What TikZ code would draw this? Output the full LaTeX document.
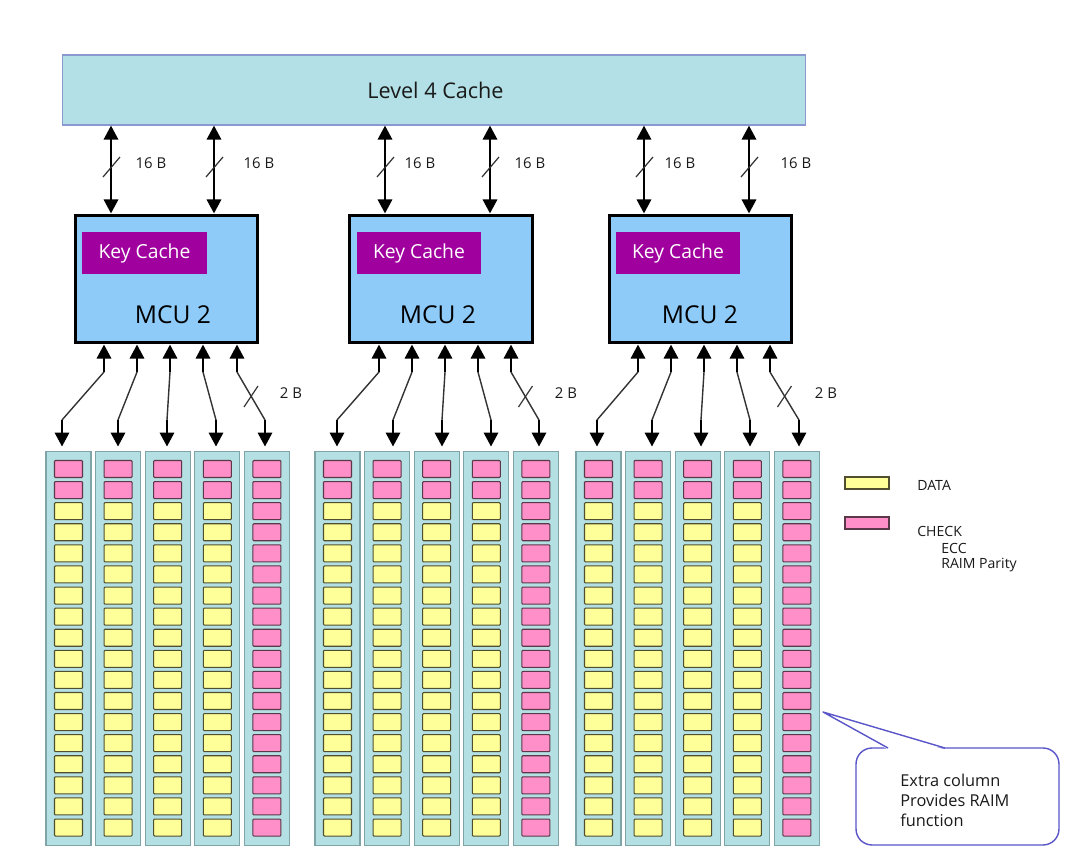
\documentclass[tikz,border=0pt]{standalone}
\usepackage{fontspec}
\setmainfont{Open Sans}
\usetikzlibrary{arrows.meta}
\definecolor{lfour}{HTML}{B2E0E6}
\definecolor{lfourline}{HTML}{8A9AD0}
\definecolor{mcufill}{HTML}{8FCBF9}
\definecolor{keyfill}{HTML}{A0009E}
\definecolor{colfill}{HTML}{B4E0E3}
\definecolor{colline}{HTML}{7FA4A8}
\definecolor{yel}{HTML}{FFFF99}
\definecolor{yelline}{HTML}{4F4F30}
\definecolor{pnk}{HTML}{FF8FC8}
\definecolor{pnkline}{HTML}{5A3848}
\definecolor{callline}{HTML}{5A55C8}
\definecolor{txt}{HTML}{1A1A1A}
\tikzset{
  l4box/.style={draw=lfourline, line width=0.6pt, fill=lfour, minimum width=14.88cm, minimum height=1.4cm, inner sep=0pt, font=\fontsize{12.3}{14}\selectfont, text=txt},
  mcubox/.style={draw=black, line width=1.7pt, fill=mcufill, minimum width=3.66cm, minimum height=2.56cm, inner sep=0pt},
  keybox/.style={fill=keyfill, minimum width=2.5cm, minimum height=0.84cm, inner sep=0pt, text=white, font=\fontsize{11}{13}\selectfont},
  mcutext/.style={font=\fontsize{14}{16}\selectfont, text=black, inner sep=0pt},
  colbox/.style={draw=colline, line width=0.6pt, fill=colfill, minimum width=0.9cm, minimum height=7.9cm, inner sep=0pt},
  ycell/.style={draw=yelline, line width=0.6pt, fill=yel, minimum width=0.56cm, minimum height=0.34cm, inner sep=0pt, rounded corners=0.5pt},
  pcell/.style={draw=pnkline, line width=0.6pt, fill=pnk, minimum width=0.56cm, minimum height=0.34cm, inner sep=0pt, rounded corners=0.5pt},
  bus/.style={line width=1.7pt, black},
  thinbus/.style={line width=0.8pt, black!80},
  slash/.style={line width=0.7pt, black!80},
  lbl/.style={font=\fontsize{8.5}{10}\selectfont, text=txt, inner sep=0pt},
  legtxt/.style={font=\fontsize{8}{10}\selectfont, text=txt, inner sep=0pt, anchor=west},
  callbox/.style={draw=callline, line width=0.8pt, fill=white, rounded corners=0.32cm, minimum width=4.06cm, minimum height=1.94cm, inner sep=0pt},
}
\begin{document}
\begin{tikzpicture}[x=0.02cm,y=-0.02cm,
  >={Triangle[width=8pt,length=8pt]}]
\useasboundingbox (0,0) rectangle (1080,859);
\fill[white] (0,0) rectangle (1080,859);

% Level 4 cache
\node[l4box] (l4) at (434,90) {\hspace*{0.06cm}Level 4 Cache};

% MCUs
\foreach \m/\cx/\kx/\tx in {1/166.5/144.5/173, 2/441/419/438, 3/700.5/678/700}{
  \node[mcubox] (mcu\m) at (\cx,279) {};
  \node[keybox] (kc\m) at (\kx,253) {Key Cache};
  \node[mcutext] (mcut\m) at (\tx,315) {MCU 2};
}

% top buses
\foreach \m/\xa/\xb/\la/\lb in {1/111/214/151/259, 2/385/490/420/530, 3/644/749/680/796}{
  \draw[bus, <->] (l4.south -| \xa,0) -- (mcu\m.north -| \xa,0);
  \draw[bus, <->] (l4.south -| \xb,0) -- (mcu\m.north -| \xb,0);
  \draw[slash] (\xa-8,177) -- (\xa+9,157);
  \draw[slash] (\xb-8,177) -- (\xb+9,157);
  \node[lbl] (lab\m-a) at (\la,163) {16 B};
  \node[lbl] (lab\m-b) at (\lb,163) {16 B};
}

% memory columns and cells
\foreach \g/\left in {1/46, 2/315, 3/576}{
  \foreach \k in {1,...,5}{
    \pgfmathsetmacro\cx{\left+22.5+(\k-1)*49.6}
    \node[colbox] (col-\g-\k) at (\cx,648.5) {};
    \foreach \r in {0,...,17}{
      \pgfmathsetmacro\cy{469+\r*21.09}
      \ifnum\k=5 \def\cc{pcell}\else\ifnum\r<2 \def\cc{pcell}\else\def\cc{ycell}\fi\fi
      \node[\cc] (cell-\g-\k-\r) at (\cx,\cy) {};
    }
  }
}

% lower buses
\foreach \g/\k/\ux/\lx in {1/1/104/62, 1/2/137/118, 1/3/170/167, 1/4/203/216, 1/5/237/265,
                           2/1/379/337, 2/2/412/393, 2/3/445/442, 2/4/478/491, 2/5/511/539,
                           3/1/638/597, 3/2/671/652, 3/3/704/701, 3/4/737/750, 3/5/770/799}{
  \coordinate (up-\g-\k) at (\ux,372);
  \coordinate (lo-\g-\k) at (\lx,420);
  \draw[bus, <-] (mcu\g.south -| up-\g-\k) -- (up-\g-\k);
  \draw[thinbus] (up-\g-\k) -- (lo-\g-\k);
  \draw[bus, ->, shorten >=2.2pt] (lo-\g-\k) -- (col-\g-\k.north -| lo-\g-\k);
}
\foreach \g/\sx/\lbx in {1/251/291, 2/525.5/566, 3/784.5/826}{
  \draw[slash] (\sx-7,407) -- (\sx+7,386);
  \node[lbl] (lab2b-\g) at (\lbx,393) {2 B};
}

% legend
\node[ycell, minimum width=0.88cm, minimum height=0.24cm, rounded corners=0pt] (leg-data) at (867,483) {};
\node[pcell, minimum width=0.88cm, minimum height=0.24cm, rounded corners=0pt] (leg-check) at (867,523) {};
\node[legtxt] (t-data) at (917,485) {DATA};
\node[legtxt] (t-check) at (917,531) {CHECK};
\node[legtxt] (t-ecc) at (941,548) {ECC};
\node[legtxt] (t-raim) at (941,565) {RAIM Parity};

% callout
\node[callbox] (call) at (957.5,796.5) {};
\coordinate (ptip) at (823,712);
\fill[white] (888,749.6) -- (ptip) -- (945,749.6) -- cycle;
\draw[draw=callline, line width=0.8pt, line join=round] (888,748) -- (ptip) -- (945,748);
\node[font=\fontsize{9.3}{11.4}\selectfont, text=txt, align=left, anchor=west, inner sep=0pt] (calltxt) at (900,800) {Extra column\\Provides RAIM\\function};
\end{tikzpicture}
\end{document}
